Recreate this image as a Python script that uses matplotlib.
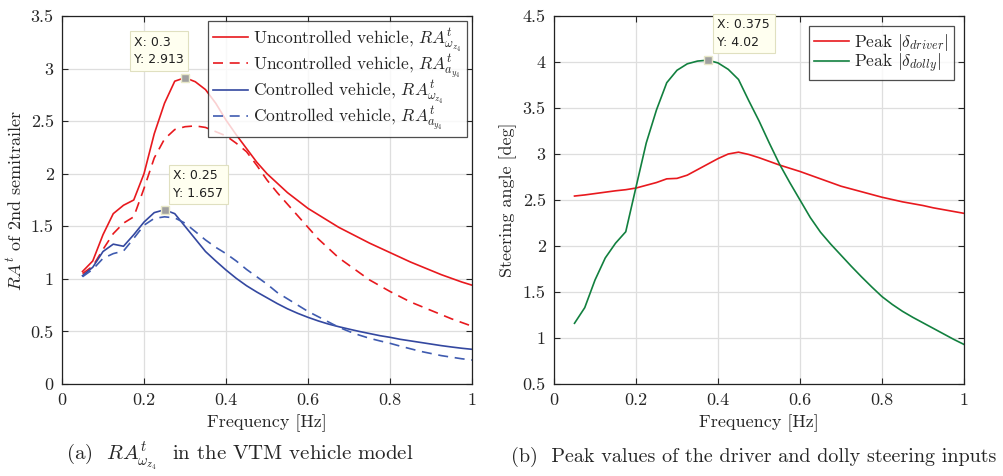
import numpy as np
import matplotlib
matplotlib.use("Agg")
import matplotlib.pyplot as plt

plt.rcParams['font.family'] = 'serif'
plt.rcParams['font.serif'] = ['cmr10', 'DejaVu Serif']
plt.rcParams['mathtext.fontset'] = 'cm'
plt.rcParams['axes.formatter.use_mathtext'] = True

freq = [0.05, 0.075, 0.1, 0.125, 0.15, 0.175, 0.2, 0.225, 0.25, 0.275,
        0.3, 0.325, 0.35, 0.375, 0.4, 0.425, 0.45, 0.475, 0.5, 0.525,
        0.55, 0.575, 0.6, 0.625, 0.65, 0.675, 0.7, 0.725, 0.75, 0.775,
        0.8, 0.825, 0.85, 0.875, 0.9, 0.925, 0.95, 0.975, 1.0]

unc_wz = [1.07, 1.17, 1.42, 1.62, 1.70, 1.75, 2.00, 2.38, 2.67, 2.88,
          2.913, 2.875, 2.80, 2.67, 2.51, 2.37, 2.24, 2.11, 2.00, 1.91,
          1.82, 1.745, 1.67, 1.61, 1.55, 1.49, 1.44, 1.39, 1.34, 1.295,
          1.25, 1.205, 1.16, 1.12, 1.08, 1.04, 1.005, 0.97, 0.94]
unc_ay = [1.05, 1.12, 1.28, 1.43, 1.53, 1.59, 1.86, 2.15, 2.33, 2.42,
          2.447, 2.455, 2.44, 2.40, 2.36, 2.29, 2.21, 2.08, 1.94, 1.82,
          1.71, 1.60, 1.49, 1.38, 1.29, 1.20, 1.13, 1.06, 0.99, 0.935,
          0.88, 0.83, 0.78, 0.74, 0.70, 0.66, 0.62, 0.585, 0.55]
con_wz = [1.03, 1.11, 1.26, 1.33, 1.31, 1.42, 1.54, 1.63, 1.657, 1.62,
          1.50, 1.38, 1.26, 1.17, 1.084, 1.005, 0.935, 0.875, 0.82, 0.765,
          0.715, 0.672, 0.634, 0.60, 0.57, 0.545, 0.522, 0.50, 0.48, 0.46,
          0.444, 0.425, 0.41, 0.395, 0.38, 0.365, 0.352, 0.34, 0.33]
con_ay = [1.02, 1.09, 1.195, 1.24, 1.265, 1.385, 1.51, 1.575, 1.59, 1.58,
          1.53, 1.45, 1.37, 1.30, 1.24, 1.17, 1.09, 1.02, 0.95, 0.87,
          0.81, 0.75, 0.69, 0.64, 0.59, 0.54, 0.50, 0.465, 0.435, 0.41,
          0.387, 0.36, 0.335, 0.31, 0.29, 0.27, 0.255, 0.24, 0.228]

drv = [2.543, 2.555, 2.57, 2.585, 2.60, 2.612, 2.63, 2.66, 2.69, 2.73,
       2.735, 2.77, 2.83, 2.89, 2.95, 3.00, 3.02, 2.995, 2.96, 2.92,
       2.88, 2.845, 2.81, 2.77, 2.73, 2.69, 2.65, 2.62, 2.59, 2.56,
       2.53, 2.505, 2.48, 2.46, 2.44, 2.415, 2.395, 2.375, 2.355]
dol = [1.16, 1.33, 1.63, 1.87, 2.03, 2.155, 2.64, 3.12, 3.48, 3.775,
       3.91, 3.98, 4.01, 4.02, 3.99, 3.92, 3.81, 3.58, 3.36, 3.12,
       2.89, 2.69, 2.50, 2.31, 2.15, 2.02, 1.90, 1.78, 1.665, 1.555,
       1.45, 1.365, 1.29, 1.225, 1.165, 1.105, 1.045, 0.985, 0.93]

RED = '#e8191e'
BLUE = '#3448a0'
BLUE_D = '#3f5bb0'
GREEN = '#12803f'
TXT = '#262626'
FS = 13
LFS = 12.5

fig = plt.figure(figsize=(10.04, 4.76), dpi=100)
W, H = 1004, 476
axL = fig.add_axes([62 / W, (H - 384) / H, 410 / W, 368 / H])
axR = fig.add_axes([554 / W, (H - 384) / H, 410 / W, 368 / H])


def style(ax):
    ax.grid(True, color='#dedede', linewidth=0.9)
    ax.set_axisbelow(True)
    ax.tick_params(direction='in', top=True, right=True, length=4,
                   labelsize=FS, colors=TXT, width=0.8, pad=6)
    for s in ax.spines.values():
        s.set_color('#222222')
        s.set_linewidth(0.9)
    ax.set_xlim(0, 1)
    ax.set_xticks([0, 0.2, 0.4, 0.6, 0.8, 1])
    ax.set_xticklabels(['0', '0.2', '0.4', '0.6', '0.8', '1'])
    ax.set_xlabel('Frequency [Hz]', fontsize=FS, color=TXT, labelpad=5)


def datatip(ax, x, y, txt, dx, dy):
    ax.plot([x], [y], marker='s', markersize=6, color='#a0a0a0',
            markeredgecolor='#e8e8c8', zorder=5)
    ax.annotate(txt, xy=(x, y), xytext=(dx, dy), textcoords='offset points',
                fontsize=9, family='DejaVu Sans', color='#202020',
                va='bottom', ha='left', zorder=6, linespacing=1.45,
                bbox=dict(boxstyle='square,pad=0.35', fc='#fffff0',
                          ec='#e0e0c0', lw=0.8))


def legend(ax, pad, spacing):
    lg = ax.legend(loc='upper right', fontsize=LFS, frameon=True, fancybox=False,
                   handlelength=2.0, borderpad=0.3, labelspacing=spacing,
                   handletextpad=0.3, borderaxespad=pad)
    lg.get_frame().set_edgecolor('#222222')
    lg.get_frame().set_linewidth(0.9)
    for t in lg.get_texts():
        t.set_color(TXT)
    return lg


style(axL)
axL.plot(freq, unc_wz, color=RED, lw=1.2, label=r'Uncontrolled vehicle, $RA^t_{\omega_{z_4}}$')
axL.plot(freq, unc_ay, color=RED, lw=1.2, ls=(0, (6, 4)), label=r'Uncontrolled vehicle, $RA^t_{a_{y_4}}$')
axL.plot(freq, con_wz, color=BLUE, lw=1.2, label=r'Controlled vehicle, $RA^t_{\omega_{z_4}}$')
axL.plot(freq, con_ay, color=BLUE_D, lw=1.2, ls=(0, (6, 4)), label=r'Controlled vehicle, $RA^t_{a_{y_4}}$')
axL.set_ylim(0, 3.5)
axL.set_yticks([0, 0.5, 1, 1.5, 2, 2.5, 3, 3.5])
axL.set_yticklabels(['0', '0.5', '1', '1.5', '2', '2.5', '3', '3.5'])
axL.set_ylabel(r'$RA^t$ of 2nd semitrailer', fontsize=FS, color=TXT, labelpad=4)
legend(axL, 0.3, -0.08)
datatip(axL, 0.3, 2.913, 'X: 0.3\nY: 2.913', -36.5, 8.2)
datatip(axL, 0.25, 1.657, 'X: 0.25\nY: 1.657', 6.4, 7.3)

style(axR)
axR.plot(freq, drv, color=RED, lw=1.2, label=r'Peak $|\delta_{driver}|$')
axR.plot(freq, dol, color=GREEN, lw=1.2, label=r'Peak $|\delta_{dolly}|$')
axR.set_ylim(0.5, 4.5)
axR.set_yticks([0.5, 1, 1.5, 2, 2.5, 3, 3.5, 4, 4.5])
axR.set_yticklabels(['0.5', '1', '1.5', '2', '2.5', '3', '3.5', '4', '4.5'])
axR.set_ylabel('Steering angle [deg]', fontsize=FS, color=TXT, labelpad=4)
legend(axR, 0.6, -0.05)
datatip(axR, 0.375, 4.02, 'X: 0.375\nY: 4.02', 7.0, 8.2)

fig.text(240 / W, 1 - 457 / H, r'(a)  $RA^t_{\omega_{z_4}}$  in the VTM vehicle model',
         ha='center', va='center', fontsize=15, color=TXT)
fig.text(754 / W, 1 - 457 / H, '(b)  Peak values of the driver and dolly steering inputs',
         ha='center', va='center', fontsize=14.5, color=TXT)

fig.savefig('out.png', dpi=100)
